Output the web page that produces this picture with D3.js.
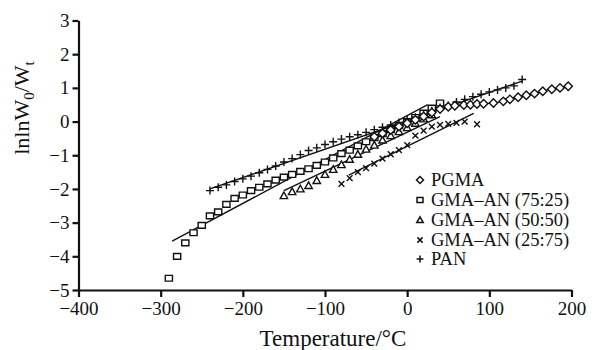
<!DOCTYPE html>
<html><head><meta charset="utf-8">
<script src="https://cdn.jsdelivr.net/npm/d3@7"></script>
<style>body{margin:0;background:#fff}svg{display:block}text{font-family:"Liberation Serif","Times New Roman",serif;fill:#111}</style>
</head><body><svg id="c" width="599" height="350"></svg>
<script>
const xTicks=[-400,-300,-200,-100,0,100,200];
const yTicks=[-5,-4,-3,-2,-1,0,1,2,3];
const seriesNames=["PGMA","GMA\u2013AN (75:25)","GMA\u2013AN (50:50)","GMA\u2013AN (25:75)","PAN"];
const pgmaT=[-40,-30,-20,-10,0,10,20,30,40,50,58,69,77,85,93,105,117,125,135,145,155,165,176,186,196];
const pgmaV=[-0.45,-0.35,-0.25,-0.15,-0.05,0.05,0.15,0.27,0.37,0.44,0.47,0.49,0.5,0.52,0.53,0.55,0.6,0.66,0.72,0.78,0.83,0.9,0.96,1.0,1.05];
const s75T=[-290,-280,-270,-260,-250,-240,-230,-220,-210,-200,-190,-180,-170,-160,-150,-140,-130,-120,-110,-100,-90,-80,-70,-60,-50,-40,-30,-20,-10,0,10,20,30,40];
const s75V=[-4.65,-4.0,-3.6,-3.3,-3.08,-2.8,-2.68,-2.46,-2.28,-2.18,-2.05,-1.95,-1.85,-1.74,-1.65,-1.57,-1.48,-1.4,-1.3,-1.2,-1.08,-0.95,-0.85,-0.72,-0.6,-0.48,-0.36,-0.24,-0.12,0.0,0.12,0.25,0.4,0.55];
const s50T=[-150,-140,-130,-120,-110,-100,-90,-80,-70,-60,-50,-40,-30,-20,-10,0,10,20,30];
const s50V=[-2.2,-2.08,-2.0,-1.9,-1.75,-1.57,-1.42,-1.28,-1.12,-0.97,-0.82,-0.7,-0.55,-0.42,-0.3,-0.18,-0.05,0.08,0.2];
const s25T=[-80,-70,-60,-50,-40,-30,-20,-10,0,10,20,30,40,50,60,70,85];
const s25V=[-1.85,-1.68,-1.5,-1.38,-1.25,-1.1,-0.97,-0.85,-0.7,-0.42,-0.27,-0.15,-0.1,-0.07,-0.04,0.0,-0.08];
const panT=[-240,-230,-220,-210,-200,-190,-180,-170,-160,-150,-140,-130,-120,-110,-100,-90,-80,-70,-60,-50,-40,-30,-20,-10,0,10,20,30,40,50,60,70,80,90,100,110,120,130,140];
const panV=[-2.05,-1.95,-1.88,-1.78,-1.7,-1.62,-1.52,-1.42,-1.32,-1.2,-1.1,-0.98,-0.86,-0.78,-0.68,-0.6,-0.52,-0.45,-0.39,-0.32,-0.24,-0.17,-0.1,-0.03,0.05,0.13,0.22,0.32,0.42,0.48,0.58,0.66,0.74,0.81,0.88,0.94,1.0,1.06,1.25];
// fitted straight lines (endpoints)
const fit75T=[-286,25], fit75V=[-3.55,0.5];
const fit50T=[-150,40], fit50V=[-2.05,0.15];
const fit25T=[-71,81], fit25V=[-1.59,0.24];
const fitPanT=[-240,140], fitPanV=[-2.0,1.2];

const svg=d3.select("#c");
const x=d3.scaleLinear().domain([-400,200]).range([78.5,571.5]);
const y=d3.scaleLinear().domain([-5,3]).range([290,20.5]);
const fmt=d=>d<0?"\u2212"+Math.abs(d):String(d);

const gx=svg.append("g").attr("transform","translate(0,290)")
 .call(d3.axisBottom(x).tickValues(xTicks).tickFormat(fmt).tickSize(7).tickSizeOuter(0));
const gy=svg.append("g").attr("transform","translate(78.5,0)")
 .call(d3.axisLeft(y).tickValues(yTicks).tickFormat(fmt).tickSize(6).tickSizeOuter(0));
[gx,gy].forEach(g=>{g.select(".domain").attr("stroke","#111").attr("stroke-width",2.2);
 g.selectAll(".tick line").attr("stroke","#111").attr("stroke-width",2.2);
 g.selectAll("text").style("font-family","Liberation Serif, serif").style("font-size","19px").attr("fill","#222");});
gx.selectAll("text").attr("dy","0.9em").attr("y",8);
gy.selectAll("text").attr("x",-9).attr("dy","0.32em");

// fitted lines
const line=d3.line().x(d=>x(d[0])).y(d=>y(d[1]));
const fits=[[fit75T,fit75V],[fit50T,fit50V],[fit25T,fit25V],[fitPanT,fitPanV]];
fits.forEach(([t,v])=>svg.append("path").datum(t.map((d,i)=>[d,v[i]])).attr("d",line)
 .attr("fill","none").attr("stroke","#111").attr("stroke-width",1.4));
svg.append("path").datum(pgmaT.map((d,i)=>[d,pgmaV[i]])).attr("d",line)
 .attr("fill","none").attr("stroke","#111").attr("stroke-width",1.3);

const shapes={
 diamond:s=>`M0,${-s}L${s},0L0,${s}L${-s},0Z`,
 square:s=>`M${-s},${-s*0.8}H${s}V${s*0.8}H${-s}Z`,
 triangle:s=>`M0,${-s}L${s},${s*0.8}H${-s}Z`,
 cross:s=>`M${-s},${-s}L${s},${s}M${-s},${s}L${s},${-s}`,
 plus:s=>`M${-s},0H${s}M0,${-s}V${s}`
};
function drawMarks(T,V,shape,size,fill){
 svg.append("g").selectAll("path").data(T.map((d,i)=>[d,V[i]])).join("path")
  .attr("transform",d=>`translate(${x(d[0])},${y(d[1])})`)
  .attr("d",shapes[shape](size)).attr("fill",fill).attr("stroke","#111").attr("stroke-width",1.4);
}
drawMarks(s75T,s75V,"square",3.6,"#fff");
drawMarks(s50T,s50V,"triangle",3.7,"#fff");
drawMarks(s25T,s25V,"cross",2.9,"none");
drawMarks(panT,panV,"plus",4,"none");
drawMarks(pgmaT,pgmaV,"diamond",4.2,"#fff");

// legend
const legShapes=["diamond","square","triangle","cross","plus"];
const legSize=[3.5,3,3.2,2.6,3.4];
const legY=[180,200,220,240,259];
seriesNames.forEach((n,i)=>{
 svg.append("path").attr("transform",`translate(420,${legY[i]})`).attr("d",shapes[legShapes[i]](legSize[i]))
  .attr("fill",(legShapes[i]==="cross"||legShapes[i]==="plus")?"none":"#fff").attr("stroke","#111").attr("stroke-width",1.5);
 svg.append("text").attr("x",431).attr("y",legY[i]).attr("dy","0.34em").style("font-size","18.5px").text(n);
});

// axis titles
svg.append("text").attr("x",333).attr("y",346).attr("text-anchor","middle").style("font-size","23px").text("Temperature/\u00B0C");
const yt=svg.append("text").attr("transform","translate(29,108) rotate(-90)").attr("text-anchor","middle").style("font-size","22px");
yt.append("tspan").text("lnlnW");
yt.append("tspan").attr("dy",5).style("font-size","15px").text("0");
yt.append("tspan").attr("dy",-5).text("/W");
yt.append("tspan").attr("dy",5).style("font-size","15px").text("t");
</script></body></html>
